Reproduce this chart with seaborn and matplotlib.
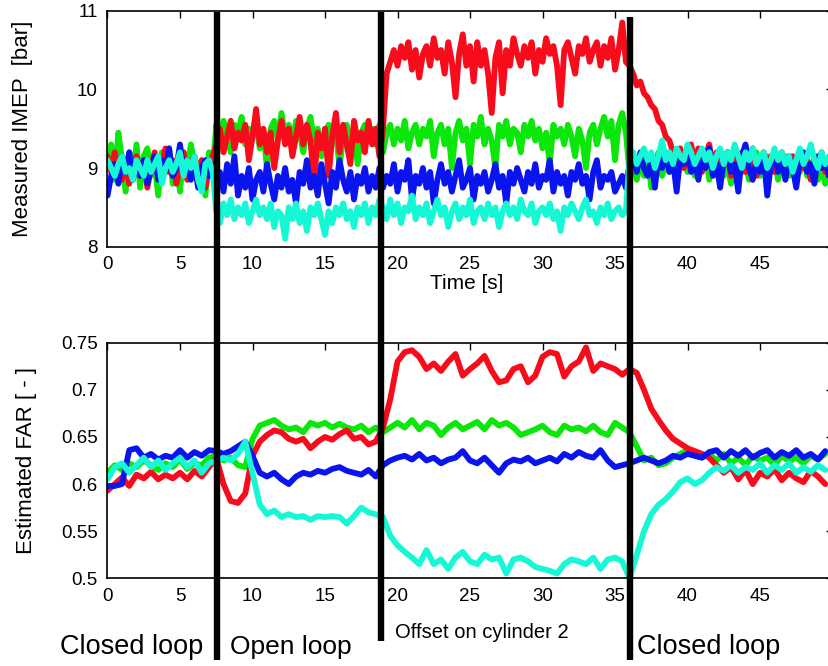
import numpy as np
import pandas as pd
import matplotlib
matplotlib.use("Agg")
import matplotlib.pyplot as plt
from matplotlib.lines import Line2D
from matplotlib.transforms import blended_transform_factory
import seaborn as sns

# ---------------- data ----------------
cylinders = ["cyl 3", "cyl 2", "cyl 1", "cyl 4"]   # draw order: green, red, blue, cyan
colors = {"cyl 3": "#0be60b", "cyl 2": "#f80c1c", "cyl 1": "#0a14ee", "cyl 4": "#14f8d6"}

imep_dt = 0.25
far_dt = 0.5

imep_red = [
    9.15, 8.95, 9.2, 9.0, 8.85, 9.1, 8.8, 9.05, 9.15, 8.9, 9.1, 8.75, 9.0, 9.2, 8.9, 9.05, 9.25, 8.95, 9.1, 8.8,
    9.0, 9.2, 8.85, 9.05, 9.15, 8.9, 9.1, 8.75, 9.0, 9.15,
    9.3, 9.5, 9.2, 9.4, 9.6, 9.25, 9.45, 9.35, 9.55, 9.1, 9.4, 9.75, 9.3, 9.5, 9.2, 9.45, 9.0, 9.35, 9.6, 9.3,
    9.5, 9.15, 9.4, 9.65, 9.3, 9.55, 9.35, 8.8, 9.45, 9.25, 9.5, 8.9, 9.4, 9.7, 9.2, 9.55, 9.3, 9.05, 9.6, 9.35,
    9.45, 9.2, 9.6, 9.3, 9.5, 9.15,
    9.5, 10.2, 10.35, 10.5, 10.3, 10.55, 10.4, 10.6, 10.25, 10.5, 10.15, 10.45, 10.55, 10.3, 10.65, 10.4, 10.5, 10.2, 10.6, 10.35,
    9.9, 10.45, 10.7, 10.3, 10.55, 10.1, 10.6, 10.3, 10.5, 10.2, 9.7, 10.4, 10.6, 9.95, 10.5, 10.3, 10.65, 10.45, 10.3, 10.55,
    10.4, 10.6, 10.2, 10.5, 10.35, 10.65, 10.45, 10.55, 10.3, 9.8, 10.5, 10.6, 10.4, 10.2, 10.55, 10.45, 10.65, 10.35, 10.5, 10.6,
    10.3, 10.55, 10.4, 10.65, 10.25, 10.5, 10.85, 10.35,
    10.3, 10.2, 10.05, 10.1, 9.95, 9.9, 9.8, 9.75, 9.6, 9.55, 9.4, 9.35, 9.2, 9.1, 9.25, 9.0, 9.2, 9.3, 9.05, 9.25,
    8.95, 9.15, 9.3, 9.0, 9.2, 8.95, 9.1, 9.2, 8.9, 9.15, 9.0, 9.2, 8.95, 9.1, 9.25, 8.9, 9.05, 9.2, 9.0, 9.15,
    8.95, 9.1, 9.2, 8.9, 9.05, 9.15, 8.95, 9.2, 9.0, 9.1, 8.85, 9.15, 9.05, 9.2, 8.95, 9.1,
]
imep_green = [
    9.0, 9.3, 8.85, 9.45, 9.1, 8.7, 9.2, 8.9, 9.3, 8.75, 9.15, 9.25, 8.9, 9.05, 8.65, 9.2, 9.0, 9.25, 8.8, 9.1,
    8.7, 9.2, 8.95, 9.3, 9.05, 8.85, 9.1, 8.65, 9.2, 8.95,
    9.55, 9.35, 9.6, 9.4, 9.2, 9.55, 9.45, 9.65, 9.3, 9.5, 9.4, 9.6, 9.25, 9.45, 9.0, 9.5, 9.6, 9.35, 9.7, 9.4,
    9.55, 9.3, 9.6, 9.45, 9.2, 9.5, 9.65, 9.35, 9.5, 9.15, 9.45, 9.55, 9.3, 9.5, 9.0, 9.4, 9.55, 9.3, 9.5, 9.05,
    9.45, 9.55, 9.35, 9.5, 9.3, 9.55,
    9.2, 9.45, 9.55, 9.3, 9.5, 9.35, 9.6, 9.25, 9.45, 9.55, 9.3, 9.5, 9.4, 9.6, 9.15, 9.45, 9.55, 9.3, 9.5, 9.0,
    9.45, 9.6, 9.35, 9.5, 9.05, 9.55, 9.4, 9.65, 9.3, 9.5, 9.35, 9.0, 9.55, 9.4, 9.6, 9.3, 9.5, 9.45, 9.2, 9.55,
    9.4, 9.6, 9.35, 9.5, 9.25, 9.45, 9.05, 9.55, 9.4, 9.5, 9.3, 9.55, 9.4, 9.15, 9.5, 9.35, 9.0, 9.45, 9.55, 9.3,
    9.5, 9.65, 9.4, 9.6, 9.1, 9.55, 9.7, 9.45,
    8.95, 9.05, 8.85, 9.1, 8.9, 9.15, 8.75, 9.05, 9.2, 8.9, 9.1, 8.95, 9.15, 8.85, 9.05, 9.2, 8.95, 9.1, 8.9, 9.15,
    9.0, 9.2, 8.85, 9.1, 9.0, 9.15, 8.9, 9.05, 8.8, 9.1, 9.15, 8.95, 9.05, 8.85, 9.1, 9.2, 8.9, 9.05, 9.15, 8.95,
    9.1, 8.85, 9.05, 9.15, 8.9, 9.1, 9.0, 8.95, 9.15, 8.9, 9.05, 9.1, 8.85, 9.0, 8.8, 9.05,
]
imep_blue = [
    8.65, 8.9, 9.05, 8.8, 9.15, 8.95, 9.2, 8.85, 9.05, 8.9, 9.1, 8.8, 9.0, 9.15, 8.85, 9.1, 8.95, 9.25, 8.9, 9.0,
    9.3, 8.95, 9.1, 8.85, 9.05, 8.75, 9.0, 9.1, 8.9, 9.05,
    8.8, 8.95, 8.7, 9.05, 8.8, 9.15, 8.65, 8.9, 8.75, 9.0, 8.6, 8.85, 8.95, 8.7, 9.05, 8.8, 8.6, 8.9, 8.75, 9.0,
    8.7, 8.85, 8.55, 8.95, 8.8, 9.1, 8.75, 8.9, 8.65, 9.05, 8.8, 8.55, 8.95, 8.75, 9.1, 8.85, 8.7, 8.95, 8.6, 8.9,
    8.8, 9.0, 8.7, 8.9, 8.75, 9.0,
    8.75, 8.9, 8.8, 9.05, 8.7, 8.95, 8.85, 9.1, 8.6, 8.9, 8.8, 9.0, 8.75, 8.95, 8.55, 8.85, 9.05, 8.8, 8.95, 8.7,
    8.9, 9.1, 8.75, 8.85, 9.0, 8.6, 8.9, 8.8, 8.95, 8.7, 8.85, 9.05, 8.75, 8.9, 8.55, 8.95, 8.8, 9.0, 8.85, 8.7,
    8.95, 8.8, 9.05, 8.75, 8.9, 8.85, 9.1, 8.7, 8.95, 8.8, 8.9, 8.65, 8.95, 8.85, 9.05, 8.8, 8.9, 8.6, 8.95, 9.1,
    8.75, 8.9, 8.85, 8.95, 8.7, 8.8, 8.9, 8.75,
    9.05, 9.15, 8.95, 9.2, 9.0, 8.9, 9.1, 8.75, 9.15, 9.0, 9.2, 8.95, 9.1, 8.7, 9.15, 9.05, 9.2, 8.95, 9.1, 8.85,
    9.15, 9.0, 9.25, 8.9, 9.05, 8.75, 9.1, 9.2, 8.95, 9.05, 8.7, 9.15, 9.3, 9.0, 8.85, 9.1, 8.95, 9.15, 8.65, 9.05,
    9.2, 8.95, 9.1, 8.85, 9.15, 9.0, 8.75, 9.1, 9.2, 8.95, 9.05, 8.8, 9.15, 9.0, 9.1, 8.9,
]
imep_cyan = [
    9.1, 9.0, 8.9, 9.05, 9.15, 8.95, 9.0, 8.85, 9.1, 9.0, 8.9, 9.1, 8.95, 9.05, 9.15, 8.8, 9.0, 9.1, 8.95, 9.05,
    9.2, 8.9, 9.1, 9.0, 9.15, 8.85, 8.7, 9.05, 9.1, 8.95,
    8.45, 8.3, 8.55, 8.4, 8.6, 8.35, 8.5, 8.4, 8.55, 8.3, 8.45, 8.6, 8.4, 8.5, 8.35, 8.55, 8.25, 8.45, 8.4, 8.1,
    8.5, 8.35, 8.55, 8.3, 8.45, 8.2, 8.5, 8.4, 8.55, 8.35, 8.15, 8.45, 8.3, 8.5, 8.4, 8.55, 8.35, 8.45, 8.25, 8.5,
    8.4, 8.55, 8.3, 8.5, 8.4, 8.6,
    8.5, 8.35, 8.6, 8.4, 8.55, 8.3, 8.5, 8.45, 8.65, 8.35, 8.5, 8.4, 8.55, 8.3, 8.45, 8.6, 8.4, 8.5, 8.25, 8.45,
    8.55, 8.35, 8.5, 8.4, 8.6, 8.3, 8.45, 8.5, 8.35, 8.55, 8.4, 8.5, 8.25, 8.45, 8.55, 8.4, 8.5, 8.35, 8.6, 8.45,
    8.4, 8.55, 8.3, 8.45, 8.5, 8.4, 8.55, 8.35, 8.45, 8.2, 8.5, 8.4, 8.55, 8.45, 8.35, 8.5, 8.6, 8.4, 8.45, 8.3,
    8.5, 8.4, 8.55, 8.35, 8.45, 8.5, 8.4, 8.45,
    9.1, 9.2, 9.05, 9.15, 9.25, 9.1, 9.2, 9.0, 9.15, 9.35, 9.1, 9.2, 9.05, 9.25, 9.15, 9.1, 9.3, 9.2, 9.05, 9.15,
    9.25, 9.1, 9.2, 9.0, 9.15, 9.25, 9.05, 9.2, 9.1, 9.3, 9.15, 9.0, 9.2, 9.1, 9.25, 9.05, 9.15, 9.2, 9.0, 9.1,
    9.25, 9.1, 9.2, 9.05, 9.15, 8.95, 9.1, 9.25, 9.05, 9.15, 9.3, 9.1, 9.0, 9.2, 9.05, 9.15,
]

far_red = [
    0.593, 0.600, 0.607, 0.598, 0.610, 0.606, 0.613, 0.605, 0.610, 0.606, 0.612, 0.605, 0.614, 0.608, 0.618,
    0.628, 0.600, 0.582, 0.580, 0.590, 0.630, 0.645, 0.652, 0.657, 0.655, 0.648, 0.645, 0.648, 0.638, 0.645,
    0.650, 0.647, 0.653, 0.657, 0.648, 0.650, 0.642, 0.645,
    0.66, 0.69, 0.73, 0.74, 0.742, 0.735, 0.722, 0.728, 0.72, 0.73, 0.738, 0.715, 0.722, 0.728, 0.736, 0.72,
    0.708, 0.71, 0.722, 0.725, 0.708, 0.715, 0.735, 0.74, 0.738, 0.714, 0.725, 0.73, 0.745, 0.72, 0.728, 0.725,
    0.722, 0.716,
    0.722, 0.718, 0.70, 0.68, 0.668, 0.657, 0.648, 0.643, 0.638, 0.635, 0.632, 0.628, 0.62, 0.612, 0.618, 0.605,
    0.615, 0.600, 0.612, 0.608, 0.616, 0.604, 0.612, 0.606, 0.602, 0.614, 0.608, 0.600,
]
far_green = [
    0.612, 0.620, 0.615, 0.622, 0.618, 0.625, 0.620, 0.615, 0.622, 0.618, 0.626, 0.616, 0.622, 0.620, 0.628,
    0.630, 0.625, 0.628, 0.620, 0.618, 0.648, 0.662, 0.665, 0.668, 0.662, 0.658, 0.660, 0.655, 0.665, 0.662,
    0.665, 0.660, 0.664, 0.660, 0.658, 0.662, 0.655, 0.660,
    0.655, 0.66, 0.665, 0.66, 0.668, 0.658, 0.665, 0.662, 0.652, 0.66, 0.665, 0.658, 0.662, 0.666, 0.658, 0.668,
    0.662, 0.665, 0.66, 0.652, 0.655, 0.658, 0.662, 0.655, 0.652, 0.662, 0.658, 0.66, 0.656, 0.662, 0.655, 0.652,
    0.665, 0.66,
    0.655, 0.64, 0.625, 0.628, 0.62, 0.622, 0.628, 0.632, 0.636, 0.63, 0.628, 0.632, 0.625, 0.632, 0.622, 0.628,
    0.62, 0.63, 0.625, 0.628, 0.62, 0.63, 0.624, 0.628, 0.622, 0.63, 0.626, 0.632,
]
far_blue = [
    0.598, 0.598, 0.600, 0.636, 0.638, 0.628, 0.632, 0.626, 0.630, 0.628, 0.636, 0.628, 0.634, 0.630, 0.636,
    0.635, 0.632, 0.635, 0.640, 0.645, 0.630, 0.612, 0.608, 0.612, 0.605, 0.600, 0.608, 0.612, 0.610, 0.614,
    0.612, 0.616, 0.618, 0.614, 0.612, 0.610, 0.615, 0.608,
    0.62, 0.625, 0.628, 0.63, 0.626, 0.632, 0.625, 0.628, 0.622, 0.626, 0.628, 0.635, 0.625, 0.622, 0.628, 0.62,
    0.612, 0.622, 0.626, 0.624, 0.628, 0.622, 0.625, 0.628, 0.624, 0.632, 0.628, 0.634, 0.63, 0.628, 0.636, 0.625,
    0.618, 0.62,
    0.622, 0.625, 0.628, 0.625, 0.622, 0.625, 0.63, 0.628, 0.632, 0.63, 0.628, 0.634, 0.636, 0.628, 0.635, 0.63,
    0.636, 0.628, 0.633, 0.636, 0.628, 0.634, 0.63, 0.636, 0.628, 0.632, 0.626, 0.635,
]
far_cyan = [
    0.605, 0.618, 0.622, 0.612, 0.62, 0.628, 0.618, 0.625, 0.615, 0.622, 0.628, 0.618, 0.625, 0.612, 0.622,
    0.625, 0.628, 0.625, 0.632, 0.645, 0.612, 0.578, 0.568, 0.572, 0.565, 0.568, 0.565, 0.566, 0.562, 0.566,
    0.565, 0.566, 0.565, 0.558, 0.566, 0.575, 0.57, 0.568,
    0.565, 0.545, 0.535, 0.528, 0.522, 0.515, 0.53, 0.515, 0.52, 0.51, 0.522, 0.528, 0.518, 0.515, 0.525, 0.52,
    0.522, 0.505, 0.52, 0.522, 0.518, 0.512, 0.51, 0.508, 0.505, 0.515, 0.52, 0.518, 0.515, 0.522, 0.51, 0.52,
    0.522, 0.518,
    0.50, 0.525, 0.55, 0.568, 0.578, 0.584, 0.592, 0.602, 0.606, 0.60, 0.604, 0.612, 0.618, 0.614, 0.62, 0.612,
    0.618, 0.615, 0.622, 0.612, 0.62, 0.615, 0.622, 0.612, 0.618, 0.613, 0.62, 0.615,
]

mode_switch_times = [7.52, 18.86, 36.0]
x_ticks = [0, 5, 10, 15, 20, 25, 30, 35, 40, 45]
imep_ticks = [8, 9, 10, 11]
far_ticks = [0.5, 0.55, 0.6, 0.65, 0.7, 0.75]
far_tick_labels = ["0.5", "0.55", "0.6", "0.65", "0.7", "0.75"]


def long_frame(series, dt):
    rows = []
    for name, vals in series.items():
        t = np.arange(len(vals)) * dt
        rows.append(pd.DataFrame({"t": t, "v": vals, "cyl": name}))
    return pd.concat(rows, ignore_index=True)


imep_df = long_frame({"cyl 3": imep_green, "cyl 2": imep_red, "cyl 1": imep_blue, "cyl 4": imep_cyan}, imep_dt)
far_df = long_frame({"cyl 3": far_green, "cyl 2": far_red, "cyl 1": far_blue, "cyl 4": far_cyan}, far_dt)

# ---------------- figure ----------------
sns.set_style("white")
plt.rcParams["font.family"] = ["Liberation Sans", "DejaVu Sans"]
plt.rcParams["text.color"] = "black"
plt.rcParams["axes.labelcolor"] = "black"

W, H = 829, 666
fig = plt.figure(figsize=(W / 100, H / 100), dpi=100)
left = 107.5 / W
width = 725 / W
ax1 = fig.add_axes([left, 1 - 246.7 / H, width, 236 / H])
ax2 = fig.add_axes([left, 1 - 578.3 / H, width, 235.6 / H])

for ax, df in ((ax1, imep_df), (ax2, far_df)):
    sns.lineplot(data=df, x="t", y="v", hue="cyl", hue_order=cylinders, palette=colors,
                 estimator=None, sort=False, linewidth=4.2, legend=False, ax=ax)
    ax.set_xlim(0, 50)
    ax.set_xticks(x_ticks)
    ax.tick_params(direction="in", length=5, width=1, top=True, right=True,
                   labelsize=13.5, pad=7, colors="black")
    for s in ax.spines.values():
        s.set_linewidth(1.2)
        s.set_color("black")
    ax.set_xlabel("")

ax1.set_ylim(8, 11)
ax1.set_yticks(imep_ticks)
ax1.set_ylabel("Measured IMEP  [bar]", fontsize=16)
ax1.yaxis.set_label_coords(-0.103, 0.5)
ax1.text(0.495, -0.155, "Time [s]", transform=ax1.transAxes, ha="center", va="center", fontsize=15)

ax2.set_ylim(0.5, 0.75)
ax2.set_yticks(far_ticks)
ax2.set_yticklabels(far_tick_labels)
ax2.set_ylabel("Estimated FAR [ - ]", fontsize=16)
ax2.yaxis.set_label_coords(-0.097, 0.5)

# thick black mode-change markers spanning both panels
extents = [(1 - 12 / H, 1 - 660 / H), (1 - 12 / H, 1 - 641 / H), (1 - 17 / H, 1 - 660 / H)]
trans = blended_transform_factory(ax1.transData, fig.transFigure)
for xt, (y0, y1) in zip(mode_switch_times, extents):
    fig.add_artist(Line2D([xt, xt], [y0, y1], transform=trans, color="black", linewidth=4.6,
                          solid_capstyle="butt"))

fig.text(60 / W, 1 - 654 / H, "Closed loop", fontsize=19.5, ha="left", va="baseline")
fig.text(230 / W, 1 - 654 / H, "Open loop", fontsize=19, ha="left", va="baseline")
fig.text(395 / W, 1 - 638 / H, "Offset on cylinder 2", fontsize=14.5, ha="left", va="baseline")
fig.text(637 / W, 1 - 654 / H, "Closed loop", fontsize=19.5, ha="left", va="baseline")

fig.savefig("out.png", dpi=100)
